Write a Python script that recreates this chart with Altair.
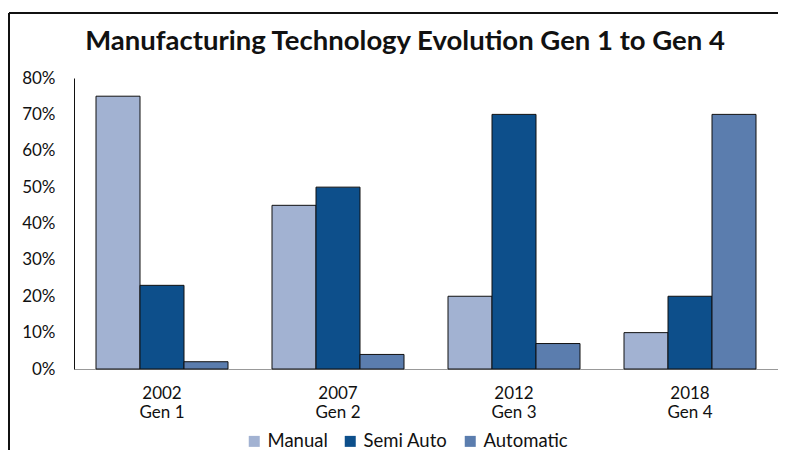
import altair as alt
import pandas as pd

periods = ["2002|Gen 1", "2007|Gen 2", "2012|Gen 3", "2018|Gen 4"]
series = ["Manual", "Semi Auto", "Automatic"]
manual = [0.75, 0.45, 0.20, 0.10]
semi_auto = [0.23, 0.50, 0.70, 0.20]
automatic = [0.02, 0.04, 0.07, 0.70]
colors = ["#A2B2D2", "#0D4F8B", "#5B7DAE"]
y_ticks = [0, 0.1, 0.2, 0.3, 0.4, 0.5, 0.6, 0.7, 0.8]

rows = []
for name, vals in zip(series, [manual, semi_auto, automatic]):
    for p, v in zip(periods, vals):
        rows.append({"period": p, "series": name, "value": v})
df = pd.DataFrame(rows)

bars = alt.Chart(df).mark_bar(stroke="#111111", strokeWidth=1).encode(
    x=alt.X("period:N", sort=periods,
            scale=alt.Scale(paddingInner=0.25, paddingOuter=0.125),
            axis=alt.Axis(title=None, labelAngle=0, ticks=False, domainColor="#999999",
                          labelExpr="split(datum.label, '|')", labelLineHeight=19,
                          labelFont="Lato", labelFontSize=17, labelColor="#111111",
                          labelPadding=16)),
    xOffset=alt.XOffset("series:N", sort=series,
                        scale=alt.Scale(paddingInner=0, paddingOuter=0)),
    y=alt.Y("value:Q", scale=alt.Scale(domain=[0, 0.8], nice=False),
            axis=alt.Axis(title=None, format=".0%", values=y_ticks, grid=False, ticks=False,
                          domainColor="#111111", labelFont="Lato", labelFontSize=17,
                          labelColor="#111111", labelPadding=19)),
    color=alt.Color("series:N", sort=series,
                    scale=alt.Scale(domain=series, range=colors),
                    legend=alt.Legend(title=None, orient="none", direction="horizontal",
                                      legendX=171, legendY=354, symbolType="square",
                                      symbolSize=121, symbolStrokeWidth=0,
                                      labelFont="Lato", labelFontSize=18.5,
                                      labelColor="#111111", columnPadding=13)),
)

border_left = alt.Chart(df).mark_rule(color="#111111", strokeWidth=2).encode(
    x=alt.value(-65), y=alt.value(-65), y2=alt.value(400))
border_top = alt.Chart(df).mark_rule(color="#111111", strokeWidth=2).encode(
    x=alt.value(-65), x2=alt.value(720), y=alt.value(-65))

chart = alt.layer(bars, border_left, border_top).properties(
    width=704, height=291,
    autosize="none",
    padding={"left": 66, "top": 70, "right": 0, "bottom": 81},
    title=alt.TitleParams("Manufacturing Technology Evolution Gen 1 to Gen 4",
                          font="Lato", fontSize=27.5, fontWeight="bold", color="#111111",
                          anchor="middle", dx=-21, offset=-43),
).configure_view(stroke=None)

chart.save("out.html", embed_options={"renderer": "svg", "actions": False})
